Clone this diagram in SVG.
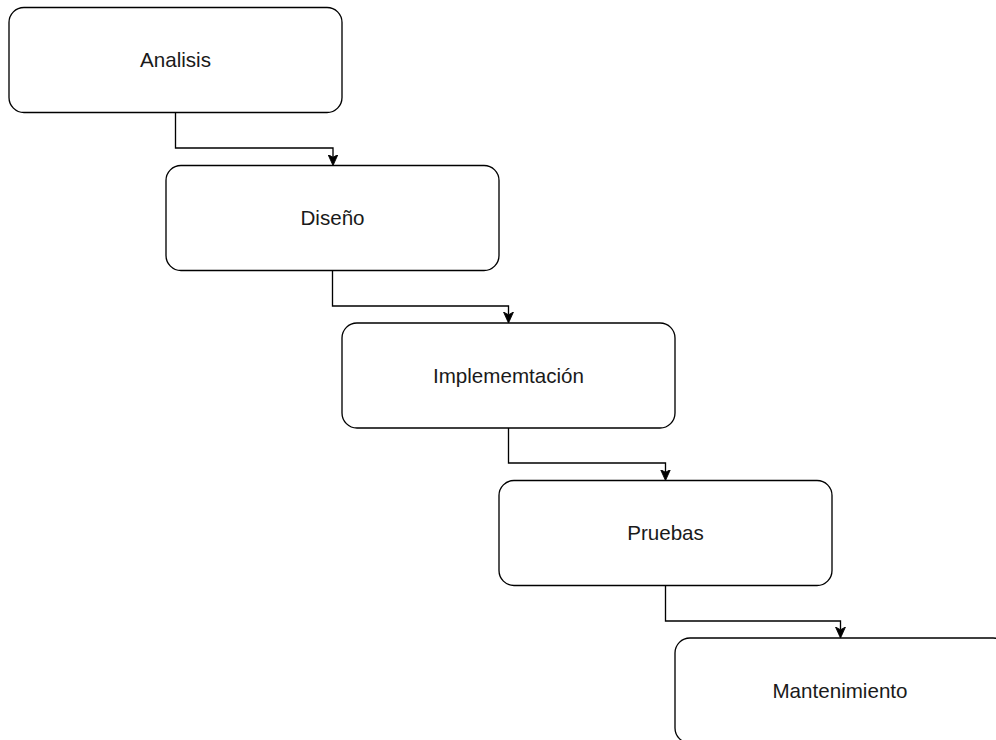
<svg xmlns="http://www.w3.org/2000/svg" width="996" height="740" viewBox="0 0 996 740">
<style>
.box{fill:#ffffff;stroke:#000000;stroke-width:1.33}
.lbl{font-family:"Liberation Sans",Arial,sans-serif;font-size:20.6px;fill:#1a1a1a;text-anchor:middle}
.edge{fill:none;stroke:#000000;stroke-width:1.33}
</style>
<defs>
<marker id="arr" viewBox="0 0 10 10" refX="2.5" refY="5" markerWidth="11" markerHeight="11" markerUnits="userSpaceOnUse" orient="auto">
<path d="M0,0.5 L10,5 L0,9.5 L2.5,5 Z" fill="#000000" stroke="#000000" stroke-width="0.8"/>
</marker>
</defs>
<rect width="996" height="740" fill="#ffffff"/>
<g id="connectors">
<path class="edge" d="M175.5,112.5 V148 H333 V157.3" marker-end="url(#arr)"/>
<path class="edge" d="M332.5,270 V306 H508.5 V314.8" marker-end="url(#arr)"/>
<path class="edge" d="M508.5,428 V463 H665.5 V472.3" marker-end="url(#arr)"/>
<path class="edge" d="M665.5,586 V621 H840.5 V629.8" marker-end="url(#arr)"/>
</g>
<g id="analisis">
<rect class="box" x="9" y="7.5" width="333" height="105" rx="15" ry="15"/>
<text class="lbl" x="175.5" y="67.3">Analisis</text>
</g>
<g id="diseno">
<rect class="box" x="166" y="165.5" width="333" height="105" rx="15" ry="15"/>
<text class="lbl" x="332.5" y="225.3">Diseño</text>
</g>
<g id="implementacion">
<rect class="box" x="342" y="323" width="333" height="105" rx="15" ry="15"/>
<text class="lbl" x="508.5" y="383">Implememtación</text>
</g>
<g id="pruebas">
<rect class="box" x="499" y="480.5" width="333" height="105" rx="15" ry="15"/>
<text class="lbl" x="665.5" y="540.3">Pruebas</text>
</g>
<g id="mantenimiento">
<rect class="box" x="675" y="638" width="333" height="105" rx="15" ry="15"/>
<text class="lbl" x="840" y="698">Mantenimiento</text>
</g>
</svg>
